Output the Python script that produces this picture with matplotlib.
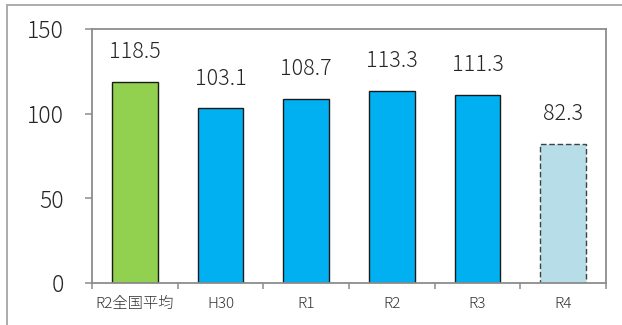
import matplotlib
matplotlib.use("Agg")
import matplotlib.pyplot as plt
from matplotlib.patches import Rectangle

plt.rcParams['font.family'] = ['Noto Sans CJK JP', 'DejaVu Sans']

categories = ['R2全国平均', 'H30', 'R1', 'R2', 'R3', 'R4']
values = [118.5, 103.1, 108.7, 113.3, 111.3, 82.3]
value_labels = ['118.5', '103.1', '108.7', '113.3', '111.3', '82.3']
y_ticks = [0, 50, 100, 150]

face_colors = ['#92D050', '#00B0F0', '#00B0F0', '#00B0F0', '#00B0F0', '#B7DEE8']
edge_colors = ['#1a1a1a'] * 5 + ['#404040']
line_styles = ['solid'] * 5 + [(0, (4, 2))]

fig = plt.figure(figsize=(6.22, 3.25), dpi=100)
ax = fig.add_axes([92 / 622, 1 - 283 / 325, (606 - 92) / 622, (283 - 29) / 325])

# outer frame around the chart area
fig.patches.append(Rectangle((7 / 622, -0.05), 1.1, 1 - 5 / 325 + 0.05,
                             transform=fig.transFigure, fill=False,
                             edgecolor='#a6a6a6', linewidth=1.3))

x = range(len(categories))
bars = ax.bar(x, values, width=0.53, color=face_colors,
              edgecolor=edge_colors, linewidth=1.0)
for bar, ls in zip(bars, line_styles):
    bar.set_linestyle(ls)

for xi, v, lab in zip(x, values, value_labels):
    ax.annotate(lab, (xi, v), xytext=(0, 21.5), textcoords='offset points',
                ha='center', va='center', fontsize=15.5, fontweight='light',
                color='#262626')

ax.set_xlim(-0.5, len(categories) - 0.5)
ax.set_ylim(0, 150)
ax.set_yticks(y_ticks)
ax.set_yticklabels([str(t) for t in y_ticks], fontsize=16.5, fontweight='light',
                   color='#262626')

ax.set_xticks([i - 0.5 for i in range(len(categories) + 1)])
ax.set_xticklabels([])
ax.set_xticks(list(x), minor=True)
ax.set_xticklabels(categories, minor=True, fontsize=11, fontweight='light',
                   color='#333333')
ax.tick_params(axis='x', which='minor', length=0, pad=10)
ax.tick_params(axis='x', which='major', length=4, width=1.1, color='#8c8c8c')
ax.tick_params(axis='y', length=5, width=1.1, color='#8c8c8c', pad=15)

for s in ax.spines.values():
    s.set_color('#8c8c8c')
    s.set_linewidth(1.3)

fig.savefig('out.png', dpi=100)
